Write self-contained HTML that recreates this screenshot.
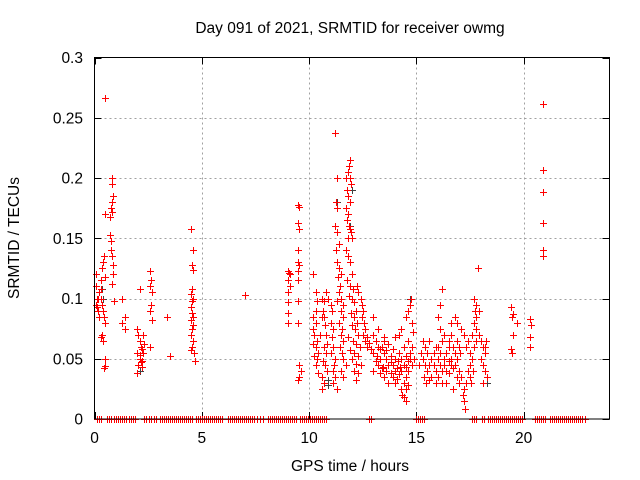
<!DOCTYPE html>
<html><head><meta charset="utf-8"><style>
html,body{margin:0;padding:0;background:#fff}
svg{display:block;font-family:"Liberation Sans",sans-serif}
</style></head><body>
<svg id="chart" width="640" height="480" viewBox="0 0 640 480" xmlns="http://www.w3.org/2000/svg" shape-rendering="crispEdges">
<rect x="0" y="0" width="640" height="480" fill="#fff"/>
<text x="350" y="33" font-size="15.5" text-anchor="middle" fill="#000">Day 091 of 2021, SRMTID for receiver owmg</text>
<text x="350" y="471" font-size="15.5" text-anchor="middle" fill="#000">GPS time / hours</text>
<text x="19" y="238" font-size="15.5" text-anchor="middle" fill="#000" transform="rotate(-90 19 238)">SRMTID / TECUs</text>
<g id="grid"></g>
<g id="ticks"></g>
<g id="marks"></g>
<rect x="94.5" y="57.5" width="515" height="361.5" fill="none" stroke="#000" stroke-width="1"/>
</svg>
<script>
const xTicks = [0,5,10,15,20];
const yTicks = [0,0.05,0.1,0.15,0.2,0.25,0.3];
const yTickLabels = ["0","0.05","0.1","0.15","0.2","0.25","0.3"];
const zeroRanges = [[0.12,0.31],[0.56,0.78],[0.9,1.52],[1.61,1.98],[2.29,2.45],[2.54,2.68],[2.76,2.88],[3.04,4.54],[4.74,4.93],[5.02,5.98],[6.2,7.33],[7.41,7.41],[7.56,7.56],[7.72,7.72],[7.84,7.84],[8.07,9.4],[9.58,10.82],[12.79,12.96],[15.0,15.4],[17.57,17.8],[18.07,18.19],[18.33,19.95],[20.51,20.82],[20.88,21.05],[21.24,22.76],[22.88,22.88]];
const redPoints = [
[0.05,0.12],[0.05,0.11],[0.1,0.1],[0.05,0.095],[0.1,0.093],[0.15,0.09],[0.2,0.085],[0.15,0.1],[0.2,0.105],[0.3,0.108],[0.3,0.115],[0.35,0.125],[0.4,0.13],[0.45,0.135],[0.5,0.118],[0.3,0.1],[0.35,0.095],[0.4,0.09],[0.45,0.085],[0.5,0.08],[0.35,0.07],[0.3,0.068],[0.4,0.065],[0.5,0.05],[0.5,0.044],[0.45,0.042],[0.5,0.266],[0.5,0.17],[0.7,0.168],[0.7,0.153],[0.75,0.148],[0.8,0.2],[0.8,0.195],[0.85,0.185],[0.8,0.18],[0.75,0.175],[0.8,0.172],[0.75,0.14],[0.8,0.135],[0.85,0.128],[0.85,0.12],[0.8,0.112],[0.9,0.098],[1.3,0.1],[1.4,0.085],[1.3,0.08],[1.4,0.075],
[2.0,0.075],[2.05,0.07],[2.1,0.065],[2.15,0.06],[2.2,0.058],[2.0,0.055],[2.1,0.05],[2.2,0.048],[2.05,0.045],[2.15,0.047],[2.25,0.055],[2.3,0.062],[2.25,0.07],[2.1,0.053],[2.2,0.043],[2.0,0.038],[2.1,0.108],[2.6,0.123],[2.65,0.115],[2.6,0.11],[2.7,0.105],[2.65,0.095],[2.6,0.09],[2.7,0.082],[2.6,0.06],[3.4,0.085],[3.5,0.052],
[4.5,0.158],[4.6,0.14],[4.55,0.128],[4.6,0.124],[4.55,0.108],[4.5,0.104],[4.6,0.1],[4.5,0.093],[4.55,0.088],[4.6,0.085],[4.5,0.082],[4.6,0.078],[4.55,0.075],[4.5,0.07],[4.6,0.065],[4.55,0.06],[4.5,0.057],[4.65,0.055],[4.7,0.048],[4.55,0.098],[7.0,0.103],
[9.0,0.123],[9.05,0.121],[9.1,0.12],[9.0,0.115],[9.1,0.11],[9.0,0.105],[9.0,0.097],[9.0,0.088],[9.0,0.08],
[9.5,0.178],[9.55,0.176],[9.5,0.163],[9.55,0.158],[9.5,0.14],[9.5,0.13],[9.55,0.128],[9.5,0.123],[9.5,0.115],[9.5,0.098],[9.5,0.08],[9.55,0.045],[9.6,0.04],[9.55,0.035],[9.5,0.032],
[10.2,0.12],[10.3,0.105],[10.35,0.098],[10.3,0.09],[10.2,0.085],[10.3,0.08],[10.2,0.075],[10.25,0.07],[10.35,0.065],[10.2,0.062],[10.3,0.06],[10.4,0.055],[10.25,0.052],[10.35,0.05],[10.3,0.045],[10.4,0.038],[10.5,0.07],[10.6,0.085],[10.65,0.09],[10.7,0.098],[10.8,0.105],[10.6,0.1],[10.7,0.085],[10.75,0.078],[10.8,0.07],[10.85,0.062],[10.7,0.06],[10.8,0.055],[10.65,0.048],[10.75,0.045],[10.85,0.04],[10.6,0.035],[10.7,0.03],[10.6,0.025],[10.9,0.1],[11.0,0.095],[11.05,0.09],[11.0,0.08],[11.1,0.075],[11.05,0.068],[11.1,0.06],[11.0,0.055],[11.2,0.05],[11.15,0.045],[11.1,0.04],[11.2,0.035],[11.1,0.03],[11.3,0.025],
[11.2,0.237],[11.3,0.2],[11.25,0.18],[11.3,0.175],[11.2,0.16],[11.3,0.155],[11.4,0.145],[11.25,0.14],[11.3,0.13],[11.4,0.125],[11.5,0.12],[11.35,0.118],[11.45,0.11],[11.4,0.105],[11.5,0.1],[11.3,0.098],[11.6,0.095],[11.5,0.09],[11.6,0.085],[11.4,0.08],[11.55,0.075],[11.5,0.07],[11.6,0.065],[11.45,0.06],[11.55,0.055],[11.6,0.05],[11.7,0.045],[11.5,0.04],[11.6,0.035],[11.7,0.2],[11.75,0.19],[11.8,0.205],[11.85,0.21],[11.9,0.2],[11.8,0.185],[11.9,0.215],[11.95,0.195],[11.9,0.18],[11.7,0.175],[11.8,0.17],[11.75,0.165],[11.85,0.16],[11.9,0.158],[11.95,0.155],[11.8,0.15],[12.0,0.15],[11.7,0.14],[11.8,0.135],[11.9,0.13],[12.0,0.12],[11.75,0.115],[11.9,0.11],[12.05,0.108],[11.85,0.102],[12.0,0.1],[12.1,0.097],[12.2,0.09],[11.95,0.088],[12.1,0.085],[12.25,0.08],[12.0,0.078],[12.15,0.075],[12.3,0.07],[11.8,0.068],[12.05,0.065],[12.2,0.062],[12.35,0.06],[11.9,0.057],[12.1,0.055],[12.3,0.052],[12.0,0.05],[12.2,0.046],[12.4,0.045],[12.1,0.04],[12.3,0.038],[12.2,0.032],[12.25,0.11],[12.3,0.105],[12.4,0.1],[12.45,0.095],[12.5,0.09],[12.45,0.085],[12.55,0.08],[12.6,0.075],[12.5,0.07],[12.7,0.068],[12.6,0.065],[12.8,0.063],[12.7,0.06],[12.9,0.058],
[13.0,0.07],[13.1,0.065],[13.2,0.06],[13.0,0.055],[13.3,0.05],[13.1,0.048],[13.2,0.045],[13.4,0.042],[13.0,0.04],[13.3,0.038],[13.5,0.035],[13.4,0.06],[13.5,0.055],[13.6,0.05],[13.7,0.045],[13.6,0.04],[13.8,0.038],[13.5,0.065],[13.7,0.062],[13.9,0.058],[13.8,0.052],[14.0,0.05],[13.9,0.045],[14.1,0.042],[14.0,0.04],[14.2,0.037],[13.9,0.035],[14.1,0.033],[13.7,0.03],[14.0,0.03],[14.2,0.055],[14.3,0.05],[14.4,0.045],[14.3,0.04],[14.5,0.043],[14.6,0.048],[14.5,0.052],[14.7,0.055],[14.4,0.06],[14.6,0.065],[14.8,0.06],[14.7,0.05],[14.9,0.05],[14.8,0.045],[14.6,0.04],[14.5,0.035],[14.4,0.03],[14.3,0.025],[14.35,0.02],[14.4,0.018],[14.5,0.015],[14.5,0.025],[14.6,0.028],[14.2,0.07],[14.3,0.075],[14.5,0.085],[14.6,0.09],[14.7,0.095],[14.75,0.1],[14.8,0.08],[14.85,0.072],[13.2,0.075],[13.0,0.085],[13.5,0.068],[14.0,0.068],[13.6,0.057],[13.3,0.058],[13.8,0.047],[14.15,0.048],[14.25,0.043],[13.45,0.043],[13.15,0.052],
[15.3,0.065],[15.4,0.06],[15.5,0.055],[15.3,0.05],[15.4,0.045],[15.5,0.04],[15.35,0.035],[15.6,0.032],[15.45,0.03],[15.7,0.035],[15.6,0.045],[15.7,0.05],[15.8,0.055],[15.9,0.06],[15.8,0.045],[15.9,0.04],[16.0,0.05],[16.1,0.055],[16.0,0.06],[16.2,0.065],[16.1,0.045],[16.2,0.04],[16.0,0.035],[16.3,0.05],[16.4,0.055],[16.3,0.045],[16.5,0.048],[16.4,0.04],[16.6,0.045],[16.5,0.038],[16.7,0.042],[16.6,0.05],[16.8,0.055],[16.7,0.06],[16.9,0.05],[16.8,0.045],[17.0,0.04],[17.1,0.035],[17.0,0.03],[17.2,0.025],[17.15,0.02],[17.2,0.015],[17.25,0.008],[17.3,0.03],[17.4,0.04],[17.5,0.045],[17.3,0.06],[17.4,0.065],[17.2,0.07],[17.1,0.075],[16.9,0.08],[16.8,0.085],[16.6,0.07],[16.5,0.065],[16.3,0.07],[16.1,0.075],[16.0,0.085],[16.1,0.095],[16.2,0.108],[16.6,0.08],[16.5,0.06],[15.6,0.065],[15.2,0.055],[15.1,0.045],[16.9,0.065],[17.0,0.06],[17.05,0.055],[17.6,0.05],[17.5,0.055],[17.7,0.06],[17.8,0.065],[17.6,0.07],[17.7,0.08],[17.8,0.085],[17.75,0.09],[17.8,0.095],[17.9,0.09],[17.85,0.125],[17.7,0.1],[17.8,0.075],[17.9,0.07],[18.0,0.065],[18.1,0.06],[18.2,0.055],[18.0,0.05],[18.1,0.045],[18.2,0.04],[18.3,0.035],[18.1,0.03],[18.2,0.06],[18.25,0.065],[17.65,0.04],[17.5,0.035],[17.55,0.03],[16.4,0.03],[16.2,0.03],[15.9,0.03],[16.7,0.025],[16.9,0.035],
[19.4,0.093],[19.45,0.085],[19.5,0.087],[19.7,0.08],[19.5,0.07],[19.4,0.058],[19.45,0.055],[20.3,0.083],[20.35,0.078],[20.3,0.068],[20.3,0.06],
[20.9,0.261],[20.9,0.207],[20.9,0.188],[20.9,0.163],[20.9,0.14],[20.9,0.135]
];
const grayPoints = [[0.35,0.108],[0.4,0.1],[2.1,0.04],[10.2,0.12],[10.9,0.032],[10.9,0.028],[11.3,0.18],[11.9,0.16],[12.0,0.19],[14.7,0.1],[16.2,0.108],[20.3,0.068],[18.3,0.03]];

const X0=94.5, X1=609.5, Y0=419, Y1=57.5, XMAX=24, YMAX=0.3;
function sx(h){return X0+(h/XMAX)*(X1-X0);}
function sy(v){return Y0-(v/YMAX)*(Y0-Y1);}
const NS="http://www.w3.org/2000/svg";
function mk(tag,attrs,parent){const e=document.createElementNS(NS,tag);for(const k in attrs)e.setAttribute(k,attrs[k]);parent.appendChild(e);return e;}
const grid=document.getElementById('grid'), ticks=document.getElementById('ticks'), marks=document.getElementById('marks');

xTicks.forEach((t,i)=>{
  const x=Math.round(sx(t))+0.5;
  if(t>0){const g=mk('line',{x1:x,y1:Y1,x2:x,y2:Y0,stroke:'#a0a0a0','stroke-dasharray':'2,3'},grid);
  
  }
  mk('line',{x1:x,y1:Y0,x2:x,y2:Y0-7,stroke:'#000'},ticks);
  mk('line',{x1:x,y1:Y1,x2:x,y2:Y1+7,stroke:'#000'},ticks);
  const tx=mk('text',{x:sx(t),y:443,'font-size':15.5,'text-anchor':'middle',fill:'#000'},ticks);
  tx.textContent=String(t);
  
  
});
yTicks.forEach((t,i)=>{
  const y=Math.round(sy(t))+0.5;
  if(t>0&&t<YMAX){const g=mk('line',{x1:X0,y1:y,x2:X1,y2:y,stroke:'#a0a0a0','stroke-dasharray':'2,3'},grid);
  
  }
  mk('line',{x1:X0,y1:y,x2:X0+7,y2:y,stroke:'#000'},ticks);
  mk('line',{x1:X1,y1:y,x2:X1-7,y2:y,stroke:'#000'},ticks);
  const tx=mk('text',{x:83,y:sy(t)+5.5,'font-size':15.5,'text-anchor':'end',fill:'#000'},ticks);
  tx.textContent=yTickLabels[i];
  
  
});
function plus(h,v,color,name){
  const x=Math.round(sx(h)), y=Math.round(sy(v));
  const g=mk('g',{fill:color},marks);
  
  
  mk('rect',{x:x-3,y:y,width:7,height:1},g);
  mk('rect',{x:x,y:y-3,width:1,height:7},g);
}
zeroRanges.forEach(r=>{
  for(let px=sx(r[0]);px<=sx(r[1])+0.01;px+=2){plus((px-X0)/(X1-X0)*XMAX,0,'#ff0000','zero-point');}
});
grayPoints.forEach(p=>plus(p[0],p[1],'#404040','gray-point'));
redPoints.forEach(p=>plus(p[0],p[1],'#ff0000','srmtid-point'));
</script>
</body></html>
